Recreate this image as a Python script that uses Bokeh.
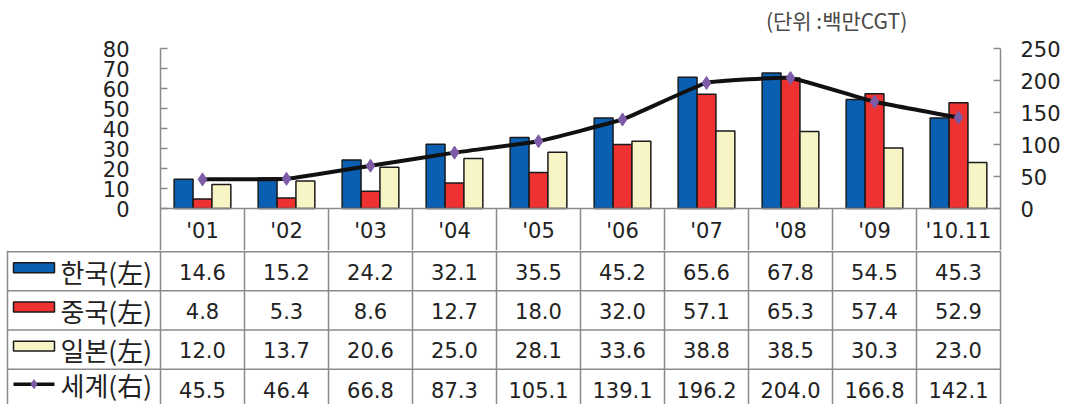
import numpy as np
from bokeh.plotting import figure
from bokeh.models import Range1d, LinearAxis, FixedTicker, ColumnDataSource
from bokeh.core.properties import value
from bokeh.embed import file_html
from bokeh.resources import INLINE

# ---- data -------------------------------------------------------------
years = ["'01", "'02", "'03", "'04", "'05", "'06", "'07", "'08", "'09", "'10.11"]
korea = [14.6, 15.2, 24.2, 32.1, 35.5, 45.2, 65.6, 67.8, 54.5, 45.3]
china = [4.8, 5.3, 8.6, 12.7, 18.0, 32.0, 57.1, 65.3, 57.4, 52.9]
japan = [12.0, 13.7, 20.6, 25.0, 28.1, 33.6, 38.8, 38.5, 30.3, 23.0]
world = [45.5, 46.4, 66.8, 87.3, 105.1, 139.1, 196.2, 204.0, 166.8, 142.1]
series_names = ["한국(左)", "중국(左)", "일본(左)", "세계(右)"]
left_ticks = [0, 10, 20, 30, 40, 50, 60, 70, 80]
right_ticks = [0, 50, 100, 150, 200, 250]
unit_note = "(단위 :백만CGT)"

# ---- style ------------------------------------------------------------
BLUE, RED, CREAM = "#0b5fb2", "#ee3131", "#f7f5c6"
LINE_C, MARK_C = "#111111", "#7d5ba6"
GRID_C = "#8a8a8a"
TXT_C = "#222222"
NUM_FONT = value("DejaVu Sans")
KR_FONT = value("Noto Sans CJK KR")

W = 1068
LEFT, RIGHT, TOP = 160, 68, 48
CELL = 84.0             # px per category
PX_LEFT = 2.0           # px per unit on the left scale
HEADER_PX = 42          # year row below the zero line
SMOOTH = 1.0 / 20.0     # slight rounding of the world line
n = len(years)

# ---- chart ------------------------------------------------------------
left_top = left_ticks[-1]
world_top = right_ticks[-1]
px_world = left_top * PX_LEFT / world_top
y_lo = -HEADER_PX / PX_LEFT
y_hi = left_top + TOP / PX_LEFT
world_lo = y_lo * world_top / left_top
world_hi = world_top + TOP / px_world

p = figure(width=W, height=TOP + int(left_top * PX_LEFT) + HEADER_PX,
           x_range=Range1d(0, n), y_range=Range1d(y_lo, y_hi),
           x_axis_location=None, output_backend="svg", toolbar_location=None,
           min_border_left=LEFT, min_border_right=RIGHT, min_border_top=0,
           min_border_bottom=0)
p.extra_y_ranges = {"world": Range1d(world_lo, world_hi)}
p.outline_line_color = None
p.grid.visible = False
p.background_fill_color = "white"
p.border_fill_color = "white"


def style_axis(ax, ticks, bounds, standoff):
    ax.ticker = FixedTicker(ticks=ticks)
    ax.bounds = bounds
    ax.axis_line_color = GRID_C
    ax.axis_line_width = 1.5
    ax.major_tick_line_color = GRID_C
    ax.major_tick_line_width = 1.5
    ax.major_tick_in = 7
    ax.major_tick_out = 0
    ax.minor_tick_line_color = None
    ax.major_label_text_font = "DejaVu Sans"
    ax.major_label_text_font_size = "21px"
    ax.major_label_text_color = TXT_C
    ax.major_label_standoff = standoff


style_axis(p.yaxis[0], left_ticks, (y_lo, left_top), 31)
right_axis = LinearAxis(y_range_name="world")
style_axis(right_axis, right_ticks, (world_lo, world_top), 20)
p.add_layout(right_axis, "right")

centers = np.arange(n) + 0.5
bar_w = 0.225
for vals, off, col in [(korea, -bar_w, BLUE), (china, 0.0, RED), (japan, bar_w, CREAM)]:
    p.vbar(x=centers + off, top=vals, bottom=0, width=bar_w,
           fill_color=col, line_color="#1a1a1a", line_width=1.5)

# world line, corners slightly rounded with cubic Bezier segments
wy = np.array(world, dtype=float)
px_ = np.concatenate([[centers[0]], centers, [centers[-1]]])
py_ = np.concatenate([[wy[0]], wy, [wy[-1]]])
seg = dict(
    x0=px_[1:n], y0=py_[1:n], x1=px_[2:n + 1], y1=py_[2:n + 1],
    cx0=px_[1:n] + (px_[2:n + 1] - px_[0:n - 1]) * SMOOTH,
    cy0=py_[1:n] + (py_[2:n + 1] - py_[0:n - 1]) * SMOOTH,
    cx1=px_[2:n + 1] - (px_[3:n + 2] - px_[1:n]) * SMOOTH,
    cy1=py_[2:n + 1] - (py_[3:n + 2] - py_[1:n]) * SMOOTH,
)
p.bezier(source=ColumnDataSource(seg), x0="x0", y0="y0", x1="x1", y1="y1",
         cx0="cx0", cy0="cy0", cx1="cx1", cy1="cy1",
         line_color=LINE_C, line_width=4, y_range_name="world")
p.scatter(x=centers, y=world, marker="diamond", size=13, fill_color=MARK_C,
          line_color=MARK_C, y_range_name="world")

# unit note above the plot area
p.text(x=[8.89], y=[left_top + 14.25], text=[unit_note], text_align="right",
       text_baseline="middle", text_font=KR_FONT, text_font_size="21px",
       text_color="#4a4a4a")

# zero line and the year header row
p.segment(x0=[0], y0=[0], x1=[n], y1=[0], line_color=GRID_C, line_width=1.5)
inner = np.arange(1, n)
p.segment(x0=inner, y0=0, x1=inner, y1=y_lo, line_color=GRID_C, line_width=1.5)
p.text(x=centers, y=[y_lo / 2 - 0.5] * n, text=years, text_align="center",
       text_baseline="middle", text_font=NUM_FONT, text_font_size="21px",
       text_color=TXT_C)

# ---- value table ------------------------------------------------------
ROW_PX = 39.5
TABLE_H = 404 - p.height
rows = len(series_names)
t_bottom = TABLE_H / ROW_PX
tx0 = -LEFT / CELL
t = figure(width=W, height=TABLE_H,
           x_range=Range1d(tx0, n + RIGHT / CELL),
           y_range=Range1d(t_bottom, -0.03),
           x_axis_location=None, y_axis_location=None,
           output_backend="svg", toolbar_location=None,
           min_border=0, min_border_left=0, min_border_right=0,
           min_border_top=0, min_border_bottom=0)
t.outline_line_color = None
t.grid.visible = False
t.background_fill_color = "white"
t.border_fill_color = "white"

left_edge = (7 - LEFT) / CELL
t.segment(x0=[left_edge] * rows, y0=list(range(rows)), x1=[n] * rows,
          y1=list(range(rows)), line_color=GRID_C, line_width=1.5)
vx = [left_edge] + list(range(n + 1))
t.segment(x0=vx, y0=[-0.03] * len(vx), x1=vx, y1=[t_bottom] * len(vx),
          line_color=GRID_C, line_width=1.5)

# legend swatches
sw_l, sw_r = (13 - LEFT) / CELL, (54 - LEFT) / CELL
sw_c, sw_w = (sw_l + sw_r) / 2, sw_r - sw_l
t.rect(x=[sw_c] * 3, y=[r + 0.5 - 0.09 for r in range(3)], width=sw_w,
       height=10 / ROW_PX, fill_color=[BLUE, RED, CREAM],
       line_color="#1a1a1a", line_width=1.5)
t.segment(x0=[sw_l], y0=[3.5 - 0.12], x1=[sw_r], y1=[3.5 - 0.12],
          line_color=LINE_C, line_width=3.5)
t.scatter(x=[sw_c], y=[3.5 - 0.12], marker="diamond", size=9,
          fill_color=MARK_C, line_color=MARK_C)

label_y = [min(r + 0.5, t_bottom - 0.52) for r in range(rows)]
t.text(x=[(60 - LEFT) / CELL] * rows, y=label_y,
       text=series_names, text_align="left", text_baseline="middle",
       text_font=KR_FONT, text_font_size="26px", text_color=TXT_C)

cell_x, cell_y, cell_t = [], [], []
for r, vals in enumerate([korea, china, japan, world]):
    for i, v in enumerate(vals):
        cell_x.append(i + 0.5)
        cell_y.append(r + 0.52)
        cell_t.append(f"{v:.1f}")
t.text(x=cell_x, y=cell_y, text=cell_t, text_align="center",
       text_baseline="middle", text_font=NUM_FONT, text_font_size="21px",
       text_color=TXT_C)

# the chart and its table are two stacked roots of the page
open("out.html", "w").write(file_html([p, t], INLINE))
